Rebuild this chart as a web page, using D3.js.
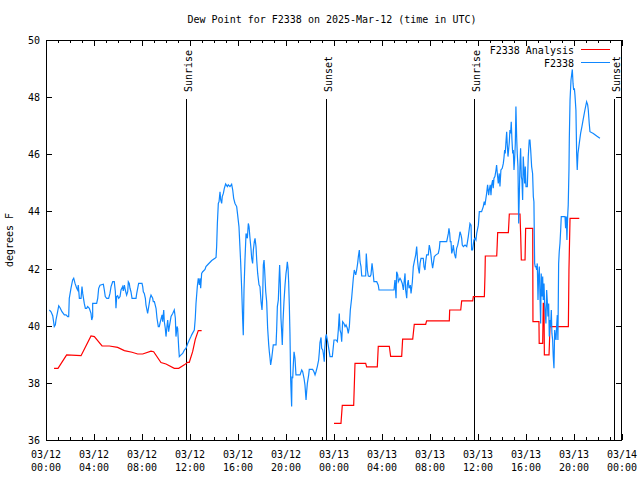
<!DOCTYPE html>
<html><head><meta charset="utf-8">
<script src="https://cdn.jsdelivr.net/npm/d3@7/dist/d3.min.js"></script>
<style>
html,body{margin:0;padding:0;background:#fff;}
text{font-family:"DejaVu Sans Mono",monospace;font-size:10px;fill:#000;}
</style></head>
<body><svg id="chart" width="640" height="480"></svg>
<script>
// Time values are hours after 2025-03-12 00:00 UTC
const title = "Dew Point for F2338 on 2025-Mar-12 (time in UTC)";
const yLabel = "degrees F";
const seriesNames = ["F2338 Analysis", "F2338"];
const yTicks = [36, 38, 40, 42, 44, 46, 48, 50];
const sunEvents = [["Sunrise", 11.667], ["Sunset", 23.333], ["Sunrise", 35.63], ["Sunset", 47.33]];

const analysisPart1 = [[0.67,38.51],[1.0,38.51],[1.72,38.98],[2.92,38.95],[3.75,39.64],[4.03,39.62],[4.67,39.29],[5.28,39.29],[5.97,39.24],[6.53,39.13],[7.17,39.07],[7.64,39.01],[8.06,39.01],[8.75,39.11],[8.97,39.09],[9.58,38.71],[10.0,38.66],[10.69,38.51],[11.06,38.51],[11.53,38.63],[11.8,38.72],[11.94,38.72],[12.22,39.09],[12.44,39.52],[12.69,39.83],[12.97,39.83]];
const analysisPart2 = [[24.0,36.58],[24.58,36.58],[24.69,37.21],[25.64,37.21],[25.75,38.68],[26.64,38.68],[26.72,38.56],[27.61,38.56],[27.69,39.28],[28.61,39.28],[28.72,38.93],[29.64,38.93],[29.72,39.53],[30.56,39.53],[30.69,40.05],[31.64,40.05],[31.72,40.17],[33.61,40.17],[33.64,40.55],[34.56,40.55],[34.64,40.87],[35.56,40.87],[35.61,41.02],[36.53,41.02],[36.58,41.74],[36.61,42.44],[37.56,42.44],[37.6,42.83],[37.64,43.26],[38.53,43.26],[38.57,43.58],[38.61,43.91],[39.5,43.91],[39.56,43.12],[39.61,42.3],[39.92,42.3],[39.97,43.41],[40.56,43.41],[40.57,41.78],[40.58,40.14],[41.08,40.14],[41.1,39.38],[41.39,39.38],[41.44,40.78],[41.5,40.78],[41.53,38.98],[41.92,38.98],[42.0,39.97],[43.53,39.97],[43.58,41.95],[43.67,43.76],[44.44,43.76]];

const stationPart1 = [[0.28,40.55],[0.42,40.49],[0.56,40.35],[0.69,39.97],[0.78,40.03],[0.83,40.20],[0.97,40.49],[1.06,40.70],[1.17,40.63],[1.33,40.49],[1.53,40.38],[1.67,40.38],[1.81,40.32],[1.89,40.32],[1.94,40.96],[2.08,41.31],[2.22,41.60],[2.31,41.66],[2.42,41.48],[2.56,41.31],[2.64,41.25],[2.69,41.42],[2.78,40.96],[2.92,40.96],[3.0,41.37],[3.06,41.13],[3.19,40.78],[3.28,40.61],[3.39,40.61],[3.47,40.67],[3.61,40.61],[3.75,40.43],[3.81,40.20],[3.89,40.32],[3.89,40.78],[4.03,40.78],[4.22,40.78],[4.31,40.96],[4.39,41.31],[4.5,41.42],[4.78,41.45],[4.86,41.25],[4.94,41.02],[5.06,40.96],[5.22,40.96],[5.33,41.13],[5.42,41.37],[5.56,41.54],[5.69,41.54],[5.78,41.19],[5.83,40.61],[5.89,41.02],[5.97,41.05],[6.06,40.96],[6.17,41.02],[6.25,41.25],[6.39,41.37],[6.44,41.22],[6.53,41.42],[6.61,41.25],[6.72,41.07],[6.81,41.19],[6.86,41.54],[6.94,41.48],[7.0,41.31],[7.08,41.19],[7.17,40.96],[7.5,40.96],[7.56,41.13],[7.64,41.31],[7.72,41.48],[8.0,41.48],[8.06,41.37],[8.11,41.19],[8.19,41.13],[8.28,40.96],[8.33,40.73],[8.47,40.43],[8.56,40.67],[8.67,40.96],[8.75,41.07],[8.89,40.96],[8.94,40.84],[9.03,40.84],[9.17,40.61],[9.25,40.26],[9.36,39.97],[9.44,39.97],[9.53,40.14],[9.67,40.38],[9.72,40.14],[9.81,40.55],[9.86,40.14],[9.94,39.91],[10.0,39.62],[10.08,39.97],[10.14,40.20],[10.22,39.79],[10.28,39.97],[10.42,40.32],[10.56,40.43],[10.69,40.55],[10.78,40.26],[10.83,39.62],[10.92,39.97],[10.97,39.91],[11.06,39.21],[11.11,38.92],[11.25,38.98],[11.39,39.03],[11.53,39.15],[11.67,39.21],[11.81,39.38],[11.94,39.50],[12.08,39.62],[12.14,39.68],[12.36,39.85],[12.44,40.26]];
const stationPart2 = [[12.5,40.78],[12.61,41.37],[12.69,41.66],[12.78,41.43],[12.83,41.66],[12.89,41.31],[12.97,41.83],[13.06,41.89],[13.25,41.97],[13.33,42.07],[13.53,42.16],[13.81,42.28],[14.08,42.36],[14.17,42.39],[14.22,42.77],[14.28,43.58],[14.36,44.28],[14.42,44.34],[14.5,44.69],[14.56,44.40],[14.64,44.28],[14.69,44.52],[14.78,44.63],[14.86,44.81],[14.97,44.96],[15.11,44.87],[15.19,44.93],[15.33,44.87],[15.47,44.95],[15.56,44.75],[15.64,44.46],[15.75,44.28],[15.89,44.17],[15.97,43.88],[16.08,43.47],[16.22,42.24],[16.31,41.25],[16.39,40.20],[16.44,39.67],[16.5,41.25],[16.58,42.30],[16.67,43.23],[16.78,43.06],[16.86,43.58],[16.92,43.47],[17.0,43.06],[17.08,42.71],[17.14,42.36],[17.22,42.18],[17.28,42.65],[17.36,42.94],[17.42,43.06],[17.5,42.77],[17.56,42.30],[17.64,41.83],[17.75,41.43],[17.83,41.37],[17.92,40.84],[18.0,40.55],[18.06,41.07],[18.11,42.12],[18.17,42.30],[18.22,41.95],[18.31,41.19],[18.39,40.84],[18.47,39.91],[18.56,39.33],[18.61,39.09],[18.67,38.86],[18.72,38.63],[18.81,38.86],[18.89,39.15],[18.94,39.33],[19.17,39.33],[19.22,39.85],[19.28,40.67],[19.36,40.90],[19.42,41.60],[19.47,42.12],[19.53,41.43],[19.58,40.26],[19.64,39.79],[19.69,39.33],[19.75,40.14],[19.83,40.84],[19.92,41.43],[20.0,41.83],[20.06,42.01],[20.11,42.24],[20.17,42.01],[20.22,41.54],[20.28,40.67],[20.33,39.73],[20.39,38.10],[20.47,37.17],[20.5,38.22],[20.56,38.16],[20.61,38.63],[20.67,39.09],[20.75,38.86],[20.83,38.28],[21.17,38.28],[21.31,38.45],[21.39,38.39],[21.5,38.16],[21.58,37.93],[21.67,37.40],[21.72,37.69],[21.78,37.98],[21.89,38.28],[21.94,38.47],[22.22,38.47],[22.33,38.39],[22.42,38.28],[22.5,38.39],[22.61,38.57],[22.72,38.80],[22.78,39.09],[22.83,39.41],[22.92,39.59],[22.97,39.21],[23.06,39.15],[23.11,39.03],[23.19,38.74],[23.22,39.15],[23.31,39.62],[23.36,39.70],[23.42,39.56],[23.47,39.44],[23.56,39.21]];
const stationPart3 = [[23.67,38.92],[23.86,38.92],[24.0,39.50],[24.17,39.50],[24.28,39.44],[24.36,39.85],[24.44,40.43],[24.5,39.85],[24.58,39.73],[24.64,39.44],[24.72,40.14],[24.83,40.08],[24.92,39.97],[25.0,40.03],[25.11,39.91],[25.19,39.73],[25.28,39.97],[25.36,40.55],[25.47,40.96],[25.61,41.66],[25.69,41.95],[25.81,41.78],[25.89,41.95],[25.97,42.18],[26.03,42.42],[26.11,42.65],[26.17,42.24],[26.25,42.07],[26.31,41.74],[26.64,41.74],[26.69,42.53],[26.78,41.95],[26.86,41.74],[27.0,41.72],[27.08,41.78],[27.17,42.18],[27.25,41.89],[27.33,41.54],[27.56,41.54],[27.69,41.42],[27.75,41.25],[29.0,41.25],[29.08,41.60],[29.17,40.96],[29.22,41.89],[29.31,41.78],[29.36,41.54],[29.5,41.66],[29.58,41.60],[29.69,41.48],[29.78,41.25],[29.86,41.60],[29.92,41.83],[29.97,41.25],[30.06,40.96],[30.11,41.42],[30.19,41.60],[30.25,41.31],[30.36,41.42],[30.42,41.13],[30.47,41.31],[30.53,41.54],[30.61,42.07],[30.69,42.24],[30.81,42.48],[30.89,42.77],[30.97,42.24],[31.03,42.01],[31.11,41.83],[31.17,42.18],[31.25,42.36],[31.44,42.36],[31.5,42.07],[31.58,41.95],[31.64,42.24],[31.72,42.48],[31.86,42.48],[31.94,42.82],[32.03,42.65],[32.08,42.48],[32.14,42.24],[32.22,42.01],[32.28,42.18],[32.36,42.42],[32.5,42.48],[32.69,42.53],[32.78,42.71],[32.83,42.94],[33.39,42.94],[33.53,43.23],[33.58,43.41],[33.64,43.23],[33.69,42.94],[33.75,42.94],[33.81,42.53],[33.89,42.65],[33.94,42.82],[34.03,42.53],[34.14,42.36],[34.22,42.71],[34.31,42.82],[34.42,43.06],[34.5,43.29],[34.58,43.18],[34.64,43.06],[34.69,42.82],[34.78,42.77],[34.92,42.82],[35.06,42.77],[35.19,43.12],[35.28,43.41],[35.33,43.58],[35.42,43.52],[35.47,42.65],[35.55,42.65]];
const stationPart4 = [[35.66,43.0],[35.75,43.06],[35.83,43.0],[35.89,43.23],[36.03,43.52],[36.11,43.99],[36.3,43.99],[36.44,44.17],[36.52,44.34],[36.58,44.22],[36.64,44.40],[36.72,44.63],[36.8,44.93],[36.89,44.57],[36.94,44.75],[37.02,44.93],[37.08,44.57],[37.14,44.93],[37.22,45.10],[37.27,44.81],[37.33,45.16],[37.41,45.22],[37.5,45.45],[37.55,45.62],[37.61,45.33],[37.69,44.98],[37.77,45.33],[37.83,44.87],[37.91,45.45],[38.02,45.51],[38.11,45.68],[38.16,45.86],[38.22,46.15],[38.27,46.03],[38.33,46.44],[38.39,46.79],[38.44,46.33],[38.5,45.92],[38.55,46.15],[38.61,46.44],[38.66,46.85],[38.72,46.73],[38.77,47.14],[38.83,46.50],[38.89,46.03],[38.94,46.15],[39.0,45.45],[39.05,45.80],[39.11,46.38],[39.16,47.67],[39.22,46.62],[39.27,46.03],[39.33,45.57],[39.39,43.58],[39.44,44.52],[39.5,45.68],[39.55,46.21],[39.61,45.22],[39.66,45.10],[39.72,44.40],[39.77,45.92],[39.83,45.45],[39.89,44.98],[39.94,45.57],[40.0,44.87],[40.11,44.87],[40.19,45.92],[40.27,46.50],[40.33,46.50],[40.39,46.15],[40.47,45.57],[40.55,45.33],[40.61,44.52],[40.66,44.34],[40.72,42.18],[40.77,42.07],[40.83,42.07],[40.89,41.95],[40.94,42.18],[41.0,40.90],[41.05,41.72],[41.11,42.07],[41.16,41.13],[41.22,40.08],[41.27,41.83],[41.33,41.02],[41.39,41.72],[41.44,40.90],[41.5,41.48],[41.55,40.78],[41.61,40.43],[41.66,40.08],[41.72,41.25],[41.77,40.90],[41.83,40.32],[41.89,40.78],[41.94,39.62],[42.0,40.20],[42.05,39.97],[42.11,40.55],[42.16,39.73],[42.22,39.50],[42.27,38.92],[42.33,38.51],[42.39,39.85],[42.44,39.62],[42.5,39.50],[42.55,39.97],[42.61,40.37],[42.66,39.50],[42.72,42.18],[42.77,42.59],[42.83,42.88],[42.89,43.35],[42.94,43.82],[43.25,43.82],[43.3,43.41],[43.36,43.82],[43.41,43.0],[43.47,43.82],[43.52,44.23],[43.58,45.45],[43.61,46.56],[43.67,47.90],[43.75,48.60],[43.86,48.97],[43.92,48.48],[43.97,48.25],[44.03,48.31],[44.08,48.07],[44.16,47.55],[44.22,46.03],[44.27,45.45],[44.33,46.03],[44.44,46.38],[44.55,46.73],[44.66,46.97],[44.78,47.26],[44.91,47.55],[45.05,47.84],[45.14,47.73],[45.19,47.55],[45.27,47.08],[45.33,46.79],[45.61,46.73],[45.89,46.64],[46.16,46.56]];

const analysisSegments = [analysisPart1, analysisPart2];
const stationSegments = [stationPart1.concat(stationPart2), stationPart3.concat(stationPart4)];
// the station line is continuous; join the pieces
const stationLine = stationSegments[0].concat(stationSegments[1]);

const colors = {analysis: "#ff0000", station: "#0f87ff"};
const t0 = Date.UTC(2025, 2, 12, 0, 0);
const toDate = h => new Date(t0 + h * 3600000);

const svg = d3.select("#chart");
const L = 46, R = 622, T = 40, B = 440;
const x = d3.scaleUtc().domain([toDate(0), toDate(48)]).range([L, R]);
const y = d3.scaleLinear().domain([36, 50]).range([B, T]);

const fmtD = d3.utcFormat("%m/%d"), fmtH = d3.utcFormat("%H:%M");
const majors = x.ticks(d3.utcHour.every(4));
const minors = x.ticks(d3.utcHour.every(1));

const g = svg.append("g");
// ticks
const tk = g.append("g").attr("stroke", "#000").attr("stroke-width", 1).attr("shape-rendering", "crispEdges");
minors.forEach(d => {
  const px = Math.round(x(d)) + 0.5;
  const len = (d.getUTCHours() % 4 === 0) ? 6 : 3;
  tk.append("line").attr("x1", px).attr("x2", px).attr("y1", B).attr("y2", B - len);
  tk.append("line").attr("x1", px).attr("x2", px).attr("y1", T).attr("y2", T + len);
});
yTicks.forEach(v => {
  const py = Math.round(y(v)) + 0.5;
  tk.append("line").attr("x1", L).attr("x2", L + 6).attr("y1", py).attr("y2", py);
  tk.append("line").attr("x1", R).attr("x2", R - 6).attr("y1", py).attr("y2", py);
});

// tick labels
majors.forEach(d => {
  const t = g.append("text").attr("x", x(d)).attr("text-anchor", "middle");
  t.append("tspan").attr("x", x(d)).attr("y", 458).text(fmtD(d));
  t.append("tspan").attr("x", x(d)).attr("y", 471).text(fmtH(d));
});
yTicks.forEach(v => {
  g.append("text").attr("x", 40).attr("y", y(v) + 4).attr("text-anchor", "end").text(v);
});

// sun lines
sunEvents.forEach(([name, h]) => {
  const px = Math.round(x(toDate(h))) + 0.5;
  g.append("line").attr("x1", px).attr("x2", px).attr("y1", 99).attr("y2", B)
    .attr("stroke", "#000").attr("stroke-width", 1).attr("shape-rendering", "crispEdges");
  g.append("text").attr("transform", `translate(${px + 5},92) rotate(-90)`).attr("text-anchor", "start").text(name);
});

// data lines
const line = d3.line().x(d => x(toDate(d[0]))).y(d => y(d[1]));
analysisSegments.forEach(seg => {
  g.append("path").attr("d", line(seg)).attr("fill", "none").attr("stroke", colors.analysis).attr("stroke-width", 1.2);
});
g.append("path").attr("d", line(stationLine)).attr("fill", "none").attr("stroke", colors.station).attr("stroke-width", 1.2);

// border
g.append("rect").attr("x", L + 0.5).attr("y", T + 0.5).attr("width", R - L - 1).attr("height", B - T)
  .attr("fill", "none").attr("stroke", "#000").attr("stroke-width", 1).attr("shape-rendering", "crispEdges");

// legend
const legendRows = [[seriesNames[0], colors.analysis, 54, 49.5], [seriesNames[1], colors.station, 67, 62.5]];
legendRows.forEach(([name, c, ty, ly]) => {
  g.append("text").attr("x", 574).attr("y", ty).attr("text-anchor", "end").text(name);
  g.append("line").attr("x1", 581).attr("x2", 610).attr("y1", ly).attr("y2", ly).attr("stroke", c).attr("stroke-width", 1)
    .attr("shape-rendering", "crispEdges");
});

// title and axis label
svg.append("text").attr("x", 332).attr("y", 23).attr("text-anchor", "middle").text(title);
svg.append("text").attr("transform", "translate(13,240) rotate(-90)").attr("text-anchor", "middle").text(yLabel);
</script></body></html>
